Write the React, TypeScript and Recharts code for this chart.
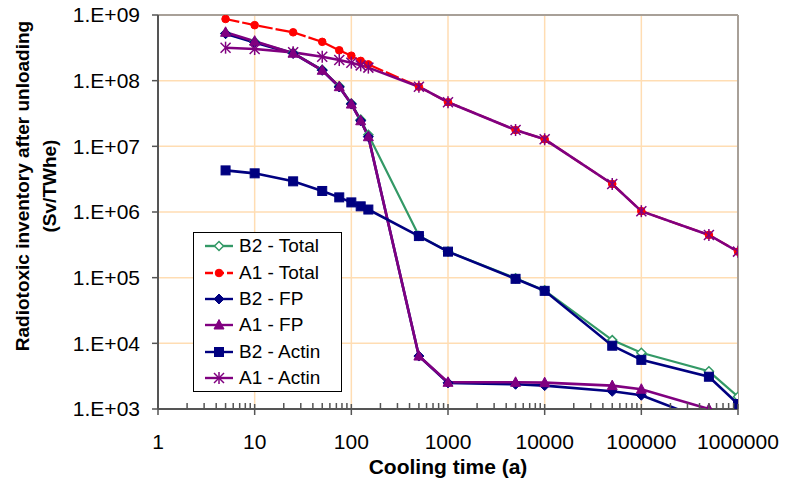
import React from 'react';
import { LineChart, Line, XAxis, YAxis, CartesianGrid, ReferenceLine, Legend, Label } from 'recharts';

const coolingTime = [5, 10, 25, 50, 75, 100, 125, 150, 500, 1000, 5000, 10000, 50000, 100000, 500000, 1000000];
const b2Total = [5.25e8, 3.9e8, 2.65e8, 1.46e8, 8.2e7, 4.5e7, 2.55e7, 1.5e7, 4.35e5, 2.5e5, 9.8e4, 6.4e4, 1.12e4, 7.2e3, 3.75e3, 1.54e3];
const a1Total = [8.7e8, 7.0e8, 5.45e8, 3.9e8, 2.9e8, 2.4e8, 2.0e8, 1.77e8, 8.1e7, 4.7e7, 1.77e7, 1.28e7, 2.67e6, 1.03e6, 4.47e5, 2.49e5];
const b2FP = [5.2e8, 3.8e8, 2.6e8, 1.44e8, 8.0e7, 4.4e7, 2.45e7, 1.4e7, 6.4e3, 2.5e3, 2.38e3, 2.27e3, 1.86e3, 1.62e3, 6.5e2, 4.5e2];
const a1FP = [5.45e8, 4.0e8, 2.62e8, 1.44e8, 8.1e7, 4.4e7, 2.45e7, 1.4e7, 6.4e3, 2.55e3, 2.55e3, 2.52e3, 2.27e3, 2.0e3, 1.0e3, 8.3e2];
const b2Actin = [4.3e6, 3.88e6, 2.93e6, 2.09e6, 1.67e6, 1.4e6, 1.22e6, 1.09e6, 4.3e5, 2.49e5, 9.6e4, 6.3e4, 9.2e3, 5.6e3, 3.1e3, 1.19e3];
const a1Actin = [3.18e8, 3.03e8, 2.7e8, 2.32e8, 2.06e8, 1.88e8, 1.71e8, 1.58e8, 8.1e7, 4.7e7, 1.77e7, 1.28e7, 2.67e6, 1.03e6, 4.47e5, 2.49e5];

const xMajorTicks = [1, 10, 100, 1000, 10000, 100000, 1000000];
const yTicks = [1e3, 1e4, 1e5, 1e6, 1e7, 1e8, 1e9];
const yTickLabels = ['1.E+03', '1.E+04', '1.E+05', '1.E+06', '1.E+07', '1.E+08', '1.E+09'];
const xMinorMultipliers = [2, 3, 4, 5, 6, 7, 8, 9];

const xAllTicks: number[] = [];
xMajorTicks.forEach((d, i) => {
  xAllTicks.push(d);
  if (i < xMajorTicks.length - 1) xMinorMultipliers.forEach((m) => xAllTicks.push(d * m));
});

const FONT = "Arial, 'Liberation Sans', Helvetica, sans-serif";

type Shape = 'diamondOpen' | 'circle' | 'diamond' | 'triangle' | 'square' | 'star';

const series: { key: string; name: string; values: number[]; color: string; width: number; shape: Shape; dash?: string }[] = [
  { key: 'b2Total', name: 'B2 - Total', values: b2Total, color: '#339966', width: 2.2, shape: 'diamondOpen' },
  { key: 'a1Total', name: 'A1 - Total', values: a1Total, color: '#FF0000', width: 2.2, shape: 'circle', dash: '14 3' },
  { key: 'b2FP', name: 'B2 - FP', values: b2FP, color: '#000080', width: 2.6, shape: 'diamond' },
  { key: 'a1FP', name: 'A1 - FP', values: a1FP, color: '#800080', width: 2.6, shape: 'triangle' },
  { key: 'b2Actin', name: 'B2 - Actin', values: b2Actin, color: '#000080', width: 2.6, shape: 'square' },
  { key: 'a1Actin', name: 'A1 - Actin', values: a1Actin, color: '#800080', width: 2.6, shape: 'star' },
];

const data = coolingTime.map((t, i) => {
  const row: Record<string, number> = { t };
  series.forEach((s) => {
    row[s.key] = s.values[i];
  });
  return row;
});

function Marker({ cx, cy, shape, color }: { cx: number; cy: number; shape: Shape; color: string }) {
  if (cx == null || cy == null || isNaN(cx) || isNaN(cy)) return null;
  switch (shape) {
    case 'diamondOpen': {
      const r = 4.5;
      return <polygon points={`${cx},${cy - r} ${cx + r},${cy} ${cx},${cy + r} ${cx - r},${cy}`} fill="#fff" stroke={color} strokeWidth={1.5} />;
    }
    case 'diamond': {
      const r = 5;
      return <polygon points={`${cx},${cy - r} ${cx + r},${cy} ${cx},${cy + r} ${cx - r},${cy}`} fill={color} stroke={color} strokeWidth={1} />;
    }
    case 'circle':
      return <circle cx={cx} cy={cy} r={3.8} fill={color} stroke={color} strokeWidth={1} />;
    case 'triangle': {
      return <polygon points={`${cx},${cy - 5.5} ${cx + 5},${cy + 4} ${cx - 5},${cy + 4}`} fill={color} stroke={color} strokeWidth={1} />;
    }
    case 'square':
      return <rect x={cx - 4.5} y={cy - 4.5} width={9} height={9} fill={color} stroke={color} strokeWidth={1} />;
    case 'star': {
      const r = 5;
      return (
        <g stroke={color} strokeWidth={1.5}>
          <line x1={cx - r} y1={cy - r} x2={cx + r} y2={cy + r} />
          <line x1={cx - r} y1={cy + r} x2={cx + r} y2={cy - r} />
          <line x1={cx} y1={cy - r - 1} x2={cx} y2={cy + r + 1} />
        </g>
      );
    }
  }
  return null;
}

function XTick(props: any) {
  const { x, y, payload } = props;
  const v = payload.value;
  const major = xMajorTicks.includes(v);
  return (
    <g>
      <line x1={x} x2={x} y1={major ? y - 5 : y - 6} y2={major ? y + 6 : y} stroke="#555" strokeWidth={1.5} />
      {major && (
        <text x={x} y={y + 40} textAnchor="middle" fontSize={21} fill="#000" fontFamily={FONT}>
          {v}
        </text>
      )}
    </g>
  );
}

function LegendBox() {
  return (
    <div
      style={{
        width: 147,
        height: 158,
        border: '1px solid #000',
        background: '#fff',
        fontFamily: FONT,
        fontSize: 19,
        color: '#000',
        boxSizing: 'content-box',
      }}
    >
      {series.map((s) => (
        <div key={s.key} style={{ height: 26.4, display: 'flex', alignItems: 'center', whiteSpace: 'nowrap' }}>
          <svg width={30} height={14} style={{ marginLeft: 11, marginRight: 4, overflow: 'visible' }}>
            <line x1={0} y1={7} x2={28} y2={7} stroke={s.color} strokeWidth={2.4} strokeDasharray={s.dash ? '8 3' : undefined} />
            <Marker cx={14} cy={7} shape={s.shape} color={s.color} />
          </svg>
          <span style={{ lineHeight: '20px' }}>{s.name}</span>
        </div>
      ))}
    </div>
  );
}

export default function App() {
  return (
    <div style={{ position: 'absolute', left: 0, top: 0, width: 786, height: 486, background: '#fff' }}>
      <LineChart width={786} height={486} data={data} margin={{ top: 15, right: 48, left: 0, bottom: 0 }}>
        <CartesianGrid stroke="#FFDDB3" strokeWidth={1.5} verticalValues={xMajorTicks} horizontalValues={yTicks} />
        <XAxis
          dataKey="t"
          type="number"
          scale="log"
          domain={[1, 1000000]}
          allowDataOverflow
          ticks={xAllTicks}
          interval={0}
          height={77}
          tickSize={0}
          tickMargin={0}
          tickLine={false}
          tick={<XTick />}
          axisLine={{ stroke: '#555', strokeWidth: 2 }}
        >
          <Label
            content={() => (
              <text x={448} y={474} textAnchor="middle" fontSize={21} fontWeight="bold" fill="#000" fontFamily={FONT}>
                Cooling time (a)
              </text>
            )}
          />
        </XAxis>
        <YAxis
          type="number"
          scale="log"
          domain={[1000, 1000000000]}
          allowDataOverflow
          ticks={yTicks}
          interval={0}
          width={158}
          tickSize={6}
          tickMargin={12}
          tickLine={{ stroke: '#555', strokeWidth: 1.5 }}
          axisLine={{ stroke: '#555', strokeWidth: 2 }}
          tick={{ fontSize: 21, fill: '#000', fontFamily: FONT }}
          tickFormatter={(v: number) => yTickLabels[yTicks.indexOf(v)] ?? ''}
        >
          <Label
            content={() => (
              <g fontFamily={FONT} fontSize={19} fontWeight="bold" fill="#000">
                <text x={22} y={186} transform="rotate(-90 22 186)" textAnchor="middle" dominantBaseline="central">
                  Radiotoxic inventory after unloading
                </text>
                <text x={49} y={186} transform="rotate(-90 49 186)" textAnchor="middle" dominantBaseline="central">
                  (Sv/TWhe)
                </text>
              </g>
            )}
          />
        </YAxis>
        <ReferenceLine y={1000000000} stroke="#A8A098" strokeWidth={2} />
        <ReferenceLine x={1000000} stroke="#A8A098" strokeWidth={2} />
        {series.map((s) => (
          <Line
            key={s.key}
            dataKey={s.key}
            name={s.name}
            type="linear"
            stroke={s.color}
            strokeWidth={s.width}
            strokeDasharray={s.dash}
            isAnimationActive={false}
            dot={(p: any) => <Marker key={`${s.key}-${p.index}`} cx={p.cx} cy={p.cy} shape={s.shape} color={s.color} />}
            activeDot={false}
          />
        ))}
        <Legend
          layout="vertical"
          align="center"
          verticalAlign="middle"
          content={() => <LegendBox />}
          wrapperStyle={{ left: 193, top: 232, width: 149, height: 160 }}
        />
      </LineChart>
    </div>
  );
}
